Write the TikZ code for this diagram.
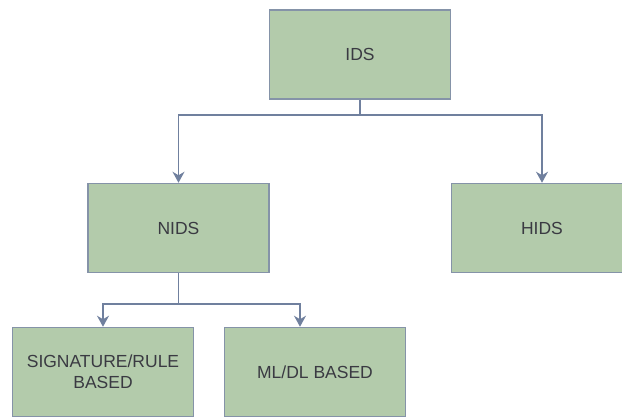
\documentclass[tikz,border=0pt]{standalone}
\usepackage{fontspec}
\setmainfont{Liberation Sans}
\usetikzlibrary{arrows.meta}

\definecolor{boxfill}{RGB}{179,203,171}
\definecolor{boxline}{RGB}{133,147,168}
\definecolor{linkline}{RGB}{112,128,158}
\definecolor{boxtext}{RGB}{58,58,66}

\tikzset{
	idsbox/.style={draw=boxline, fill=boxfill, line width=1.5pt,
		minimum width=181pt, minimum height=89pt, inner sep=0pt,
		align=center, text=boxtext, font=\fontsize{17.5}{21.5}\selectfont},
	link/.style={draw=linkline, line width=1.5pt,
		-{Stealth[length=11pt,width=12pt,inset=3.5pt]}},
}

\begin{document}
\begin{tikzpicture}[x=1pt,y=1pt]
	
	\useasboundingbox (0,0) rectangle (622,417);
	
	\node[idsbox] (ids) at (360,362.5) {IDS};
	\node[idsbox] (nids) at (178.5,189) {NIDS};
	\node[idsbox] (hids) at (542,189) {HIDS};
	\node[idsbox] (sig) at (103,45) {SIGNATURE/RULE\\BASED};
	\node[idsbox] (ml) at (315,45) {ML/DL BASED};
	
	\coordinate (idssplit) at (360,302);
	\coordinate (nidssplit) at (178.5,113);
	
	\draw[link] (ids.south) -- (idssplit) -| (nids.north);
	\draw[link] (idssplit) -| (hids.north);
	\draw[link] (nids.south) -- (nidssplit) -| (sig.north);
	\draw[link] (nidssplit) -| ([xshift=-15pt]ml.north);
	
\end{tikzpicture}
\end{document}
